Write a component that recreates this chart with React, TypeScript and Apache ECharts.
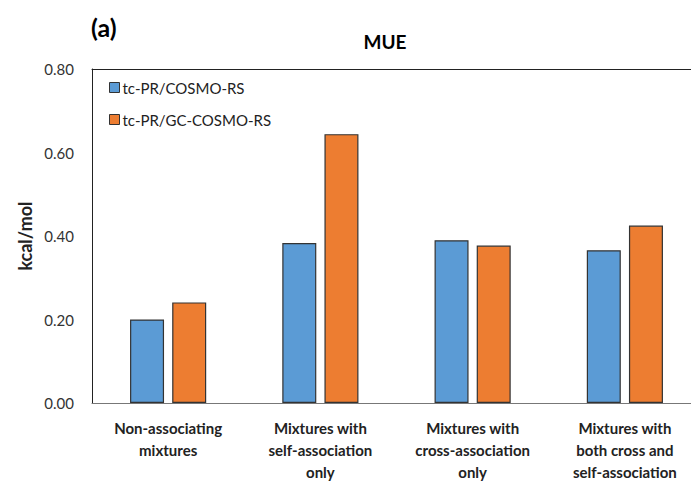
import React, { useEffect, useRef } from "react";
import * as echarts from "echarts";

const categories = [
  "Non-associating\nmixtures",
  "Mixtures with\nself-association\nonly",
  "Mixtures with\ncross-association\nonly",
  "Mixtures with\nboth cross and\nself-association",
];
const seriesNames = ["tc-PR/COSMO-RS", "tc-PR/GC-COSMO-RS"];
const tcPrCosmo = [0.2, 0.383, 0.39, 0.366];
const tcPrGcCosmo = [0.241, 0.644, 0.377, 0.425];
const yTicks = { min: 0, max: 0.8, interval: 0.2 };

const FONT = "Lato, 'Open Sans', sans-serif";

export default function App() {
  const ref = useRef<HTMLDivElement>(null);
  useEffect(() => {
    if (!ref.current) return;
    const chart = echarts.init(ref.current, null, { renderer: "svg" });
    chart.setOption({
      animation: false,
      backgroundColor: "#ffffff",
      textStyle: { fontFamily: FONT },
      title: [
        {
          text: "MUE",
          left: 380,
          top: 27,
          textAlign: "center",
          textStyle: { fontFamily: FONT, fontWeight: "bold", fontSize: 19, color: "#000" },
        },
        {
          text: "(a)",
          left: 86,
          top: 9,
          textStyle: { fontFamily: FONT, fontWeight: "bold", fontSize: 25, color: "#000" },
        },
      ],
      legend: {
        orient: "vertical",
        left: 104,
        top: 75,
        icon: "rect",
        itemWidth: 10,
        itemHeight: 10,
        itemGap: 17,
        data: seriesNames,
        itemStyle: { borderColor: "#333", borderWidth: 1 },
        textStyle: { fontFamily: FONT, fontSize: 15, color: "#222", padding: [0, 0, 0, -2] },
      },
      grid: {
        left: 92,
        top: 69,
        right: 10,
        bottom: 80,
        show: false,
      },
      xAxis: [
        {
          type: "category",
          data: categories,
          axisTick: { show: false },
          axisLine: { lineStyle: { color: "#777", width: 1 } },
          axisLabel: {
            interval: 0,
            margin: 14,
            fontFamily: FONT,
            fontWeight: "bold",
            fontSize: 15,
            lineHeight: 22,
            color: "#222",
          },
        },
        {
          type: "category",
          data: categories,
          position: "top",
          axisTick: { show: false },
          axisLabel: { show: false },
          axisLine: { show: true, lineStyle: { color: "#222", width: 1 } },
        },
      ],
      yAxis: {
        type: "value",
        min: yTicks.min,
        max: yTicks.max,
        interval: yTicks.interval,
        name: "kcal/mol",
        nameLocation: "middle",
        nameGap: 58,
        nameMoveOverlap: false,
        nameTextStyle: { fontFamily: FONT, fontWeight: "bold", fontSize: 18, color: "#222" },
        splitLine: { show: false },
        axisLine: { show: true, lineStyle: { color: "#222" } },
        axisTick: { show: false },
        axisLabel: {
          margin: 18,
          fontFamily: FONT,
          fontSize: 15,
          color: "#333",
          formatter: (v: number) => v.toFixed(2),
        },
      },
      series: [
        {
          name: seriesNames[0],
          type: "bar",
          xAxisIndex: 0,
          data: tcPrCosmo,
          barWidth: 34,
          barGap: "24%",
          itemStyle: { color: "#5B9BD5", borderColor: "#333", borderWidth: 1.2 },
        },
        {
          name: seriesNames[1],
          type: "bar",
          xAxisIndex: 0,
          data: tcPrGcCosmo,
          barWidth: 34,
          barGap: "24%",
          itemStyle: { color: "#ED7D31", borderColor: "#333", borderWidth: 1.2 },
        },
      ],
    });
    return () => chart.dispose();
  }, []);
  return (
    <div
      style={{
        position: "fixed",
        left: 0,
        top: 0,
        width: 691,
        height: 483,
        overflow: "hidden",
        background: "#fff",
      }}
    >
      <div ref={ref} style={{ width: 711, height: 483 }} />
    </div>
  );
}
